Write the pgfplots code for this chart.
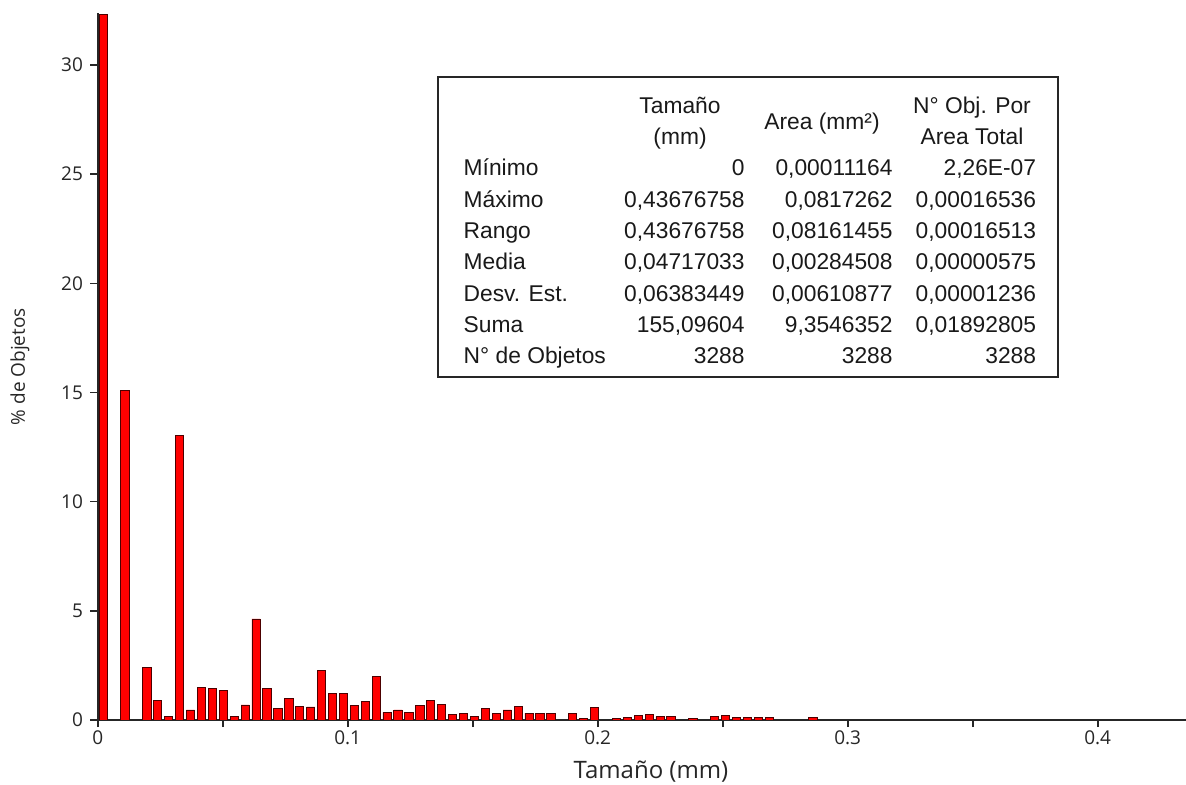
\documentclass[border=0pt]{standalone}
\usepackage{fontspec}
\setmainfont{Open Sans}
\newfontfamily\tabfont{Liberation Sans}
\usepackage{pgfplots}
\pgfplotsset{compat=1.18}
\begin{document}
\begin{tikzpicture}
\useasboundingbox (0,0) rectangle (593bp,392.5bp);
\begin{axis}[
  at={(48.85bp,32.5bp)}, anchor=south west,
  scale only axis, width=544.15bp, height=353.35bp,
  xmin=0, xmax=0.43532, ymin=0, ymax=32.37,
  ybar, bar width=0.0033,
  axis lines=left,
  axis line style={-, line width=1bp, black!85},
  tick align=outside, major tick length=3.6bp,
  tick style={line width=0.8bp, black!85},
  xtick={0,0.05,0.1,0.15,0.2,0.25,0.3,0.35,0.4},
  xticklabels={0,,0.1,,0.2,,0.3,,0.4},
  ytick={0,5,10,15,20,25,30},
  scaled ticks=false,
  /pgf/number format/assume math mode=true,
  ticklabel style={font=\fontsize{9.5bp}{11bp}\selectfont, black!85},
  xticklabel style={inner sep=0pt, anchor=north, yshift=-1.8bp},
  yticklabel style={inner sep=0pt, anchor=east, xshift=-3.6bp},
  xlabel={Tamaño (mm)},
  ylabel={\% de Objetos},
  xlabel style={font=\fontsize{12bp}{14bp}\selectfont, black!85, at={(axis description cs:0.5084,-0.0821)}, anchor=base, inner sep=0pt},
  ylabel style={font=\fontsize{9.5bp}{11bp}\selectfont, black!85, at={(axis description cs:-0.0714,0.5)}, anchor=center, rotate=0, inner sep=0pt},
  clip=true,
]
\addplot[fill=red, draw=black!70!red, line width=0.4bp] coordinates {
(0.00218,32.3) (0.01092,15.1) (0.01965,2.42) (0.02402,0.89) (0.02839,0.15)
(0.03276,13.05) (0.03713,0.46) (0.04149,1.5) (0.04586,1.45) (0.05023,1.35)
(0.05460,0.15) (0.05897,0.69) (0.06333,4.63) (0.06770,1.45) (0.07207,0.53)
(0.07644,1.0) (0.08081,0.64) (0.08517,0.6) (0.08954,2.25) (0.09391,1.23)
(0.09828,1.22) (0.10265,0.67) (0.10701,0.84) (0.11138,1.99) (0.11575,0.35)
(0.12012,0.46) (0.12449,0.35) (0.12885,0.67) (0.13322,0.89) (0.13759,0.73)
(0.14196,0.24) (0.14633,0.31) (0.15069,0.15) (0.15506,0.52) (0.15943,0.31)
(0.16380,0.46) (0.16817,0.63) (0.17253,0.31) (0.17690,0.31) (0.18127,0.31)
(0.19001,0.31) (0.19437,0.09) (0.19874,0.56) (0.20748,0.08) (0.21185,0.12)
(0.21621,0.2) (0.22058,0.26) (0.22495,0.15) (0.22932,0.15) (0.23806,0.08)
(0.24679,0.15) (0.25116,0.21) (0.25553,0.12) (0.25989,0.12) (0.26426,0.12)
(0.26863,0.12) (0.28610,0.1)
};
\end{axis}
% statistics table
\draw[line width=1bp, black!85] (219bp,203.75bp) rectangle (528.75bp,354bp);
\begin{scope}[every node/.style={inner sep=0pt, font=\tabfont\fontsize{11.4bp}{13bp}\selectfont, text=black!90}]
\node[anchor=base] at (340bp,335.5bp) {Tamaño};
\node[anchor=base] at (340bp,320bp) {(mm)};
\node[anchor=base] at (411bp,327.75bp) {Area (mm²)};
\node[anchor=base] at (486bp,335.5bp) {N° Obj. Por};
\node[anchor=base] at (486bp,320bp) {Area Total};
\begin{scope}
\clip (219bp,200bp) rectangle (302.5bp,360bp);
\node[anchor=base west] at (231.65bp,304.5bp) {Mínimo};
\node[anchor=base west] at (231.65bp,288.85bp) {Máximo};
\node[anchor=base west] at (231.65bp,273.2bp) {Rango};
\node[anchor=base west] at (231.65bp,257.55bp) {Media};
\node[anchor=base west] at (231.65bp,241.9bp) {Desv. Est.};
\node[anchor=base west] at (231.65bp,226.25bp) {Suma};
\node[anchor=base west] at (231.65bp,210.6bp) {N° de Objetos};
\end{scope}
\node[anchor=base east] at (372.5bp,304.5bp) {0};
\node[anchor=base east] at (372.5bp,288.85bp) {0,43676758};
\node[anchor=base east] at (372.5bp,273.2bp) {0,43676758};
\node[anchor=base east] at (372.5bp,257.55bp) {0,04717033};
\node[anchor=base east] at (372.5bp,241.9bp) {0,06383449};
\node[anchor=base east] at (372.5bp,226.25bp) {155,09604};
\node[anchor=base east] at (372.5bp,210.6bp) {3288};
\node[anchor=base east] at (446.5bp,304.5bp) {0,00011164};
\node[anchor=base east] at (446.5bp,288.85bp) {0,0817262};
\node[anchor=base east] at (446.5bp,273.2bp) {0,08161455};
\node[anchor=base east] at (446.5bp,257.55bp) {0,00284508};
\node[anchor=base east] at (446.5bp,241.9bp) {0,00610877};
\node[anchor=base east] at (446.5bp,226.25bp) {9,3546352};
\node[anchor=base east] at (446.5bp,210.6bp) {3288};
\node[anchor=base east] at (518.25bp,304.5bp) {2,26E-07};
\node[anchor=base east] at (518.25bp,288.85bp) {0,00016536};
\node[anchor=base east] at (518.25bp,273.2bp) {0,00016513};
\node[anchor=base east] at (518.25bp,257.55bp) {0,00000575};
\node[anchor=base east] at (518.25bp,241.9bp) {0,00001236};
\node[anchor=base east] at (518.25bp,226.25bp) {0,01892805};
\node[anchor=base east] at (518.25bp,210.6bp) {3288};
\end{scope}
\end{tikzpicture}
\end{document}
